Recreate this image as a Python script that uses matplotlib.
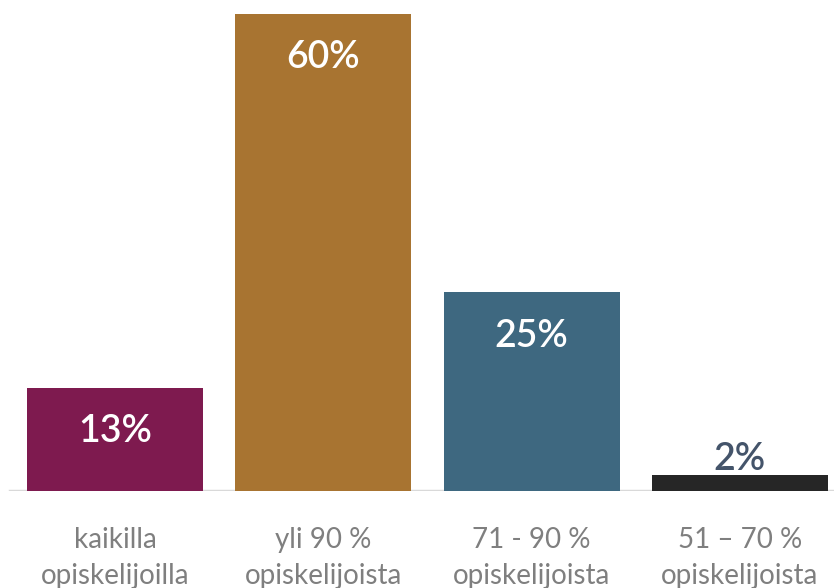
import matplotlib.pyplot as plt

plt.rcParams['font.family'] = ['Lato', 'DejaVu Sans']

# --- Data ---
categories = ["kaikilla\nopiskelijoilla", "yli 90 %\nopiskelijoista",
              "71 - 90 %\nopiskelijoista", "51 \u2013 70 %\nopiskelijoista"]
values = [13, 60, 25, 2]
value_labels = ["13%", "60%", "25%", "2%"]
colors = ["#7E1A4F", "#A87431", "#3E6880", "#262626"]

W, H = 834, 588
fig = plt.figure(figsize=(W / 100, H / 100), dpi=100)
base_px = 97                      # baseline, px from bottom
ax = fig.add_axes([0, base_px / H, 1, 1 - base_px / H])

spacing = 208.3                   # px between bar centres
first_c = 115.0
ax.set_xlim(-first_c / spacing, (W - first_c) / spacing)
px_per_unit = 477 / 60
ax.set_ylim(0, (H - base_px) / px_per_unit)

xs = range(len(values))
ax.bar(xs, values, width=176 / spacing, color=colors, zorder=2)
ax.axhline(0, xmin=10 / W, xmax=1, color="#D9D9D9", lw=2.5, zorder=1)

for x, v, lab in zip(xs, values, value_labels):
    if v > 5:
        ax.annotate(lab, (x, v), xytext=(0, -44), textcoords="offset pixels",
                    ha="center", va="center", color="white", fontsize=27,
                    fontweight="semibold")
    else:
        ax.annotate(lab, (x, v), xytext=(0, 16), textcoords="offset pixels",
                    ha="center", va="center", color="#44546A", fontsize=27,
                    fontweight="semibold")

for x, cat in zip(xs, categories):
    ax.annotate(cat, (x, 0), xytext=(0, -67), textcoords="offset pixels",
                ha="center", va="center", color="#7F7F7F", fontsize=20,
                linespacing=1.45)

ax.axis("off")
fig.savefig("out.png", dpi=100)
